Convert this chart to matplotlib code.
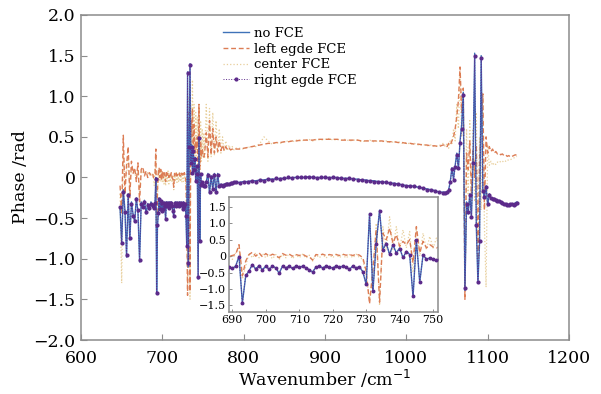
import numpy as np
import matplotlib
matplotlib.use('Agg')
import matplotlib.pyplot as plt
from matplotlib.ticker import FuncFormatter

plt.rcParams['font.family'] = ['DejaVu Serif']
plt.rcParams['axes.unicode_minus'] = True

# wavenumber grids (cm^-1) of the sampled segments
wn_a = np.arange(648, 689, 2)
wn_b = np.arange(689, 753, 1)
wn_c = np.arange(754, 791, 2)
wn_d = np.arange(795, 1046, 5)
wn_e = np.arange(1048, 1137, 2)

# ---------------- no FCE ----------------
nofce_a = [-0.38, -0.82, -0.15, -0.40, -0.98, -0.20, -0.77, -0.30, -0.45, -0.55,
           -0.25, -0.42, -1.04, -0.30, -0.38, -0.28, -0.45, -0.32, -0.40, -0.30, -0.36]
nofce_b = [-0.35, -0.38, -0.30, 0.00, -1.43, -0.60, -0.45, -0.25, -0.40, -0.28,
           -0.42, -0.30, -0.40, -0.30, -0.36, -0.52, -0.30, -0.36, -0.30, -0.38,
           -0.30, -0.35, -0.30, -0.36, -0.42, -0.48, -0.33, -0.30, -0.36, -0.30,
           -0.34, -0.36, -0.30, -0.35, -0.30, -0.34, -0.40, -0.30, -0.36, -0.32,
           -0.48, -0.86, 1.30, -1.10, 0.40, 1.40, 0.20, 0.40, 0.05, 0.35,
           0.10, 0.25, -0.05, 0.15, 0.05, -1.25, 0.50, -0.80, 0.05, -0.10,
           -0.05, -0.10, -0.12, -0.10]
nofce_c = [-0.05, 0.05, -0.20, 0.02, -0.15, 0.05, -0.20, 0.05, -0.12, -0.08,
           -0.10, -0.08, -0.09, -0.07, -0.08, -0.07, -0.07, -0.06, -0.06]
nofce_d = [-0.06, -0.05, -0.05, -0.04, -0.04, -0.03, -0.03, -0.02, -0.02, -0.02,
           -0.01, -0.01, -0.01, 0.00, 0.00, 0.00, 0.00, 0.01, 0.00, 0.00,
           0.00, 0.00, 0.00, 0.00, 0.00, -0.01, -0.01, -0.01, -0.02, -0.02,
           -0.03, -0.03, -0.04, -0.04, -0.05, -0.05, -0.06, -0.07, -0.07, -0.08,
           -0.09, -0.10, -0.10, -0.11, -0.12, -0.13, -0.14, -0.15, -0.16, -0.18,
           -0.18]
nofce_e = [-0.18, -0.20, -0.15, -0.05, 0.12, -0.02, 0.15, 0.30, 0.10, 0.45,
           0.65, 1.05, -1.39, -0.30, -0.45, -0.20, -0.50, 0.20, 1.53, -0.60,
           -1.30, -0.80, 1.50, -0.15, -0.25, -0.10, -0.35, -0.20, -0.26, -0.25,
           -0.28, -0.27, -0.30, -0.28, -0.31, -0.30, -0.33, -0.32, -0.35, -0.33,
           -0.34, -0.32, -0.35, -0.31, -0.30]

# ---------------- left egde FCE ----------------
left_a = [-0.10, -0.45, 0.52, -0.20, 0.15, 0.38, -0.25, 0.20, 0.05, 0.12,
          -0.05, 0.18, -0.30, 0.10, 0.13, 0.02, 0.08, 0.00, 0.06, 0.03, 0.05]
left_b = [0.00, 0.02, 0.05, 0.35, -0.60, -0.15, 0.05, 0.12, 0.00, 0.10,
          -0.02, 0.08, 0.00, 0.06, 0.02, -0.05, 0.08, 0.03, 0.06, 0.00,
          0.05, 0.02, 0.06, 0.00, -0.02, -0.12, 0.05, 0.03, 0.06, 0.02,
          0.05, 0.03, 0.05, 0.02, 0.06, 0.03, 0.05, 0.02, 0.06, 0.03,
          -0.05, -0.45, -1.45, -0.40, 0.80, -1.40, 0.70, 0.50, 0.85, 0.40,
          0.65, 0.30, 0.45, 0.35, 0.50, -0.20, 0.90, 0.10, 0.45, 0.25,
          0.35, 0.28, 0.25, 0.30]
left_c = [0.55, 0.25, 0.70, 0.28, 0.60, 0.30, 0.50, 0.32, 0.45, 0.33,
          0.40, 0.33, 0.38, 0.34, 0.36, 0.34, 0.35, 0.34, 0.35]
left_d = [0.35, 0.36, 0.37, 0.38, 0.39, 0.40, 0.41, 0.42, 0.42, 0.43,
          0.43, 0.44, 0.44, 0.45, 0.45, 0.46, 0.46, 0.46, 0.46, 0.47,
          0.47, 0.47, 0.47, 0.47, 0.47, 0.46, 0.46, 0.46, 0.46, 0.46,
          0.45, 0.45, 0.45, 0.45, 0.45, 0.45, 0.44, 0.44, 0.44, 0.43,
          0.43, 0.42, 0.42, 0.41, 0.41, 0.40, 0.40, 0.39, 0.39, 0.38,
          0.40]
left_e = [0.40, 0.38, 0.42, 0.40, 0.45, 0.50, 0.60, 0.75, 0.95, 1.36,
          0.80, 1.10, -1.50, 0.30, 0.10, 0.45, -0.20, 0.35, 0.00, 0.40,
          -1.15, 0.20, 0.60, 1.03, -0.40, 0.50, 0.30, 0.38, 0.32, 0.35,
          0.30, 0.32, 0.29, 0.30, 0.28, 0.29, 0.27, 0.28, 0.26, 0.27,
          0.25, 0.26, 0.27, 0.28, 0.27]

# ---------------- center FCE ----------------
center_a = [-0.20, -1.30, 0.35, -0.10, 0.05, 0.25, -0.15, 0.12, 0.08, 0.05,
            0.00, 0.10, -0.20, 0.08, 0.06, 0.05, 0.04, 0.06, 0.03, 0.05, 0.04]
center_b = [0.05, -0.10, 0.10, 0.25, -0.70, -0.30, 0.10, -0.05, 0.10, -0.05,
            0.08, -0.05, 0.05, -0.08, 0.05, -0.10, 0.05, -0.05, 0.08, -0.08,
            0.05, -0.05, 0.06, -0.06, 0.03, -0.15, 0.05, -0.05, 0.06, -0.06,
            0.05, -0.05, 0.06, -0.05, 0.05, -0.06, 0.05, -0.05, 0.06, -0.04,
            -0.10, -0.60, -1.30, -0.70, 1.00, -1.50, 0.90, 0.20, 1.20, 0.20,
            0.90, 0.20, 0.80, 0.25, 0.75, -0.50, 0.85, 0.00, 0.70, 0.20,
            0.60, 0.25, 0.55, 0.25]
center_c = [0.90, 0.20, 0.85, 0.25, 0.80, 0.28, 0.70, 0.30, 0.60, 0.30,
            0.50, 0.32, 0.45, 0.33, 0.40, 0.34, 0.38, 0.34, 0.36]
center_d = [0.36, 0.35, 0.37, 0.38, 0.38, 0.42, 0.50, 0.45, 0.41, 0.43,
            0.42, 0.44, 0.45, 0.44, 0.46, 0.45, 0.46, 0.47, 0.45, 0.47,
            0.46, 0.47, 0.48, 0.46, 0.47, 0.46, 0.47, 0.45, 0.46, 0.46,
            0.44, 0.45, 0.46, 0.44, 0.45, 0.44, 0.45, 0.43, 0.44, 0.44,
            0.42, 0.43, 0.41, 0.42, 0.40, 0.41, 0.39, 0.40, 0.38, 0.39,
            0.42]
center_e = [0.38, 0.42, 0.36, 0.45, 0.40, 0.60, 0.45, 0.90, 0.60, 1.30,
            0.50, 0.95, -1.20, 0.60, -0.20, 0.70, -0.50, 0.60, -0.30, 0.80,
            -0.80, 0.50, -0.40, 1.00, -0.60, -1.35, 0.40, 0.15, 0.20, 0.15,
            0.18, 0.16, 0.19, 0.18, 0.20, 0.19, 0.21, 0.20, 0.22, 0.21,
            0.22, 0.23, 0.24, 0.25, 0.26]

# ---------------- right egde FCE ----------------
right_a = [-0.36, -0.80, -0.18, -0.42, -0.95, -0.22, -0.75, -0.32, -0.47, -0.53,
           -0.27, -0.40, -1.02, -0.32, -0.36, -0.30, -0.43, -0.34, -0.38, -0.32, -0.35]
right_b = [-0.34, -0.37, -0.31, -0.02, -1.42, -0.58, -0.44, -0.26, -0.39, -0.29,
           -0.41, -0.31, -0.39, -0.31, -0.35, -0.51, -0.31, -0.35, -0.31, -0.37,
           -0.31, -0.34, -0.31, -0.35, -0.41, -0.47, -0.34, -0.31, -0.35, -0.31,
           -0.33, -0.35, -0.31, -0.34, -0.31, -0.33, -0.39, -0.31, -0.35, -0.33,
           -0.47, -0.84, 1.28, -1.05, 0.38, 1.38, 0.18, 0.38, 0.06, 0.33,
           0.09, 0.23, -0.04, 0.14, 0.04, -1.22, 0.48, -0.78, 0.04, -0.09,
           -0.06, -0.09, -0.11, -0.10]
right_c = [-0.06, 0.03, -0.18, 0.00, -0.14, 0.03, -0.18, 0.03, -0.11, -0.09,
           -0.10, -0.09, -0.08, -0.08, -0.08, -0.07, -0.07, -0.06, -0.06]
right_d = [-0.07, -0.05, -0.06, -0.04, -0.05, -0.03, -0.04, -0.02, -0.03, -0.01,
           -0.02, -0.01, 0.00, -0.01, 0.01, 0.00, 0.01, 0.00, 0.01, -0.01,
           0.00, 0.01, -0.01, 0.00, -0.01, -0.01, -0.02, -0.01, -0.02, -0.03,
           -0.03, -0.04, -0.04, -0.05, -0.05, -0.06, -0.06, -0.07, -0.08, -0.08,
           -0.09, -0.10, -0.11, -0.11, -0.12, -0.13, -0.15, -0.15, -0.17, -0.18,
           -0.19]
right_e = [-0.19, -0.18, -0.16, -0.06, 0.10, -0.03, 0.13, 0.28, 0.12, 0.42,
           0.60, 1.02, -1.36, -0.32, -0.42, -0.22, -0.48, 0.18, 1.50, -0.58,
           -1.28, -0.78, 1.47, -0.17, -0.24, -0.12, -0.33, -0.22, -0.25, -0.26,
           -0.27, -0.28, -0.29, -0.29, -0.30, -0.31, -0.32, -0.33, -0.34, -0.34,
           -0.33, -0.33, -0.34, -0.32, -0.31]

labels = ['no FCE', 'left egde FCE', 'center FCE', 'right egde FCE']
x_ticks = [600, 700, 800, 900, 1000, 1100, 1200]
y_ticks = [-2.0, -1.5, -1.0, -0.5, 0.0, 0.5, 1.0, 1.5, 2.0]
inset_x_ticks = [690, 700, 710, 720, 730, 740, 750]
inset_y_ticks = [-1.5, -1.0, -0.5, 0.0, 0.5, 1.0, 1.5]

wn = np.concatenate([wn_a, wn_b, wn_c, wn_d, wn_e])
nofce = np.concatenate([nofce_a, nofce_b, nofce_c, nofce_d, nofce_e])
left = np.concatenate([left_a, left_b, left_c, left_d, left_e])
center = np.concatenate([center_a, center_b, center_c, center_d, center_e])
right = np.concatenate([right_a, right_b, right_c, right_d, right_e])

C_BLUE = '#3f72b8'
C_LEFT = '#dc7d55'
C_CENTER = '#e8cf9c'
C_RIGHT = '#5c2a8a'
FRAME = '#8c8c8c'


def fmt(v, pos):
    if abs(v) < 1e-9:
        return '0'
    return f'{v:.1f}'.replace('-', '\u2212')


def draw(ax, ms):
    h1, = ax.plot(wn, nofce, color=C_BLUE, lw=1.0, zorder=3)
    h3, = ax.plot(wn, center, color=C_CENTER, lw=0.9, ls=':', zorder=1)
    h2, = ax.plot(wn, left, color=C_LEFT, lw=1.0, ls=(0, (3.5, 2)), zorder=2)
    h4, = ax.plot(wn, right, color=C_RIGHT, lw=0.7, ls=':', marker='o',
                  ms=ms, mec=C_RIGHT, mfc=C_RIGHT, zorder=4)
    return [h1, h2, h3, h4]


fig = plt.figure(figsize=(6.01, 3.94), dpi=100)
ax = fig.add_axes([0.1348, 0.137, 0.812, 0.825])
handles = draw(ax, 2.0)
ax.set_xlim(600, 1200)
ax.set_ylim(-2, 2)
ax.set_xticks(x_ticks)
ax.set_yticks(y_ticks)
ax.yaxis.set_major_formatter(FuncFormatter(fmt))
ax.tick_params(direction='in', length=4, width=0.8, color=FRAME,
               labelsize=12.5, top=False, right=False)
ax.tick_params(axis='x', pad=7.5)
ax.tick_params(axis='y', pad=4)
for s in ax.spines.values():
    s.set_color(FRAME)
    s.set_linewidth(1.1)
ax.set_xlabel('Wavenumber /cm$^{-1}$', fontsize=12.5, labelpad=0.5)
ax.set_ylabel('Phase /rad', fontsize=12.5, labelpad=3)

leg = ax.legend(handles, labels, loc='upper left', bbox_to_anchor=(0.29, 0.963),
                frameon=False, fontsize=9.5, handlelength=2.0, handletextpad=0.4,
                labelspacing=0.2, borderpad=0, borderaxespad=0)

# inset
axi = fig.add_axes([0.381, 0.208, 0.348, 0.292])
draw(axi, 1.8)
axi.set_xlim(689, 751.5)
axi.set_ylim(-1.7, 1.8)
axi.set_xticks(inset_x_ticks)
axi.set_yticks(inset_y_ticks)
axi.yaxis.set_major_formatter(FuncFormatter(fmt))
axi.tick_params(direction='in', length=2.5, width=0.7, color=FRAME,
                labelsize=8, top=False, right=False, pad=2)
for s in axi.spines.values():
    s.set_color(FRAME)
    s.set_linewidth(1.1)

fig.savefig('out.png', dpi=100)
